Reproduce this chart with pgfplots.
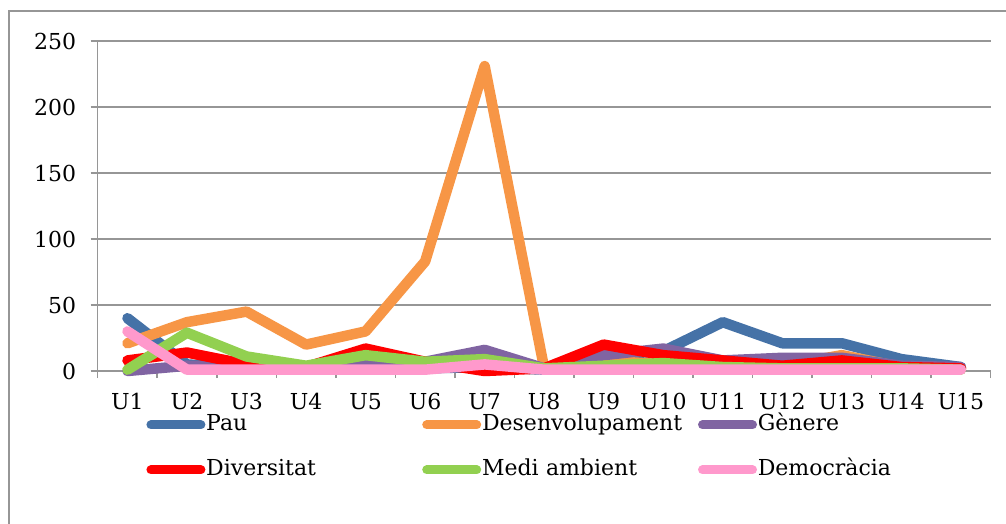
\documentclass[border=0pt]{standalone}
\usepackage{pgfplots}
\pgfplotsset{compat=1.18}
\usepackage{fontspec}
\setmainfont{DejaVu Serif}
\definecolor{cPau}{HTML}{4572A7}
\definecolor{cDes}{HTML}{F79646}
\definecolor{cGen}{HTML}{8064A2}
\definecolor{cDiv}{HTML}{FF0000}
\definecolor{cMed}{HTML}{92D050}
\definecolor{cDem}{HTML}{FF99CC}
\definecolor{cGrid}{HTML}{969696}
\begin{document}
\begin{tikzpicture}
\useasboundingbox (0,0) rectangle (1006bp,524bp);
\draw[cGrid, line width=1.5bp] (9bp,-20bp) |- (1030bp,513bp);
\begin{axis}[
  at={(97.7bp,153bp)}, anchor=south west,
  scale only axis, width=893bp, height=330bp,
  xmin=0.5, xmax=15.5, ymin=0, ymax=250,
  clip=false,
  axis x line*=bottom, axis y line*=left,
  axis line style={-, cGrid, line width=1.5bp},
  xtick={1,...,15},
  xticklabels={U1,U2,U3,U4,U5,U6,U7,U8,U9,U10,U11,U12,U13,U14,U15},
  minor xtick={0.5,1.5,...,15.5},
  major x tick style={draw=none},
  ytick={0,50,100,150,200,250},
  ymajorgrids, grid style={cGrid, line width=1.5bp},
  tick style={cGrid, line width=1.5bp},
  tick align=outside, major tick length=7bp, minor tick length=7bp,
  tick label style={font=\fontsize{22bp}{24bp}\selectfont, text=black},
  /pgf/number format/assume math mode=true,
  xticklabel style={yshift=-12bp},
  yticklabel style={xshift=-11bp},
  every axis plot/.append style={line width=10.5bp, line join=round, line cap=round},
  legend columns=3,
  legend cell align=left,
  legend image code/.code={\draw[#1, line width=9bp, line cap=round] (0bp,0bp) -- (50bp,0bp);},
  legend style={at={(0.051,-0.1235)}, anchor=north west, draw=none, fill=none,
    font=\fontsize{22bp}{24bp}\selectfont,
    nodes={inner sep=0pt, text width=216bp, text height=17bp, text depth=5bp},
    row sep=23bp,
    /tikz/every odd column/.append style={column sep=0.8bp},
    /tikz/every even column/.append style={column sep=0bp}},
]
\addplot[cPau] coordinates {(1,40)(2,5)(3,2)(4,2)(5,3)(6,2)(7,3)(8,1)(9,12)(10,15)(11,37)(12,21)(13,21)(14,9)(15,3)};
\addlegendentry{Pau}
\addplot[cDes] coordinates {(1,21)(2,37)(3,45)(4,20)(5,30)(6,83)(7,231)(8,2)(9,8)(10,5)(11,3)(12,4)(13,12)(14,3)(15,2)};
\addlegendentry{Desenvolupament}
\addplot[cGen] coordinates {(1,0)(2,4)(3,3)(4,3)(5,5)(6,7)(7,16)(8,2)(9,12)(10,17)(11,8)(12,10)(13,10)(14,4)(15,3)};
\addlegendentry{Gènere}
\addplot[cDiv] coordinates {(1,8)(2,14)(3,5)(4,3)(5,17)(6,7)(7,0)(8,2)(9,20)(10,12)(11,8)(12,4)(13,8)(14,3)(15,2)};
\addlegendentry{Diversitat}
\addplot[cMed] coordinates {(1,1)(2,29)(3,11)(4,4)(5,12)(6,7)(7,9)(8,2)(9,4)(10,6)(11,3)(12,2)(13,2)(14,2)(15,1)};
\addlegendentry{Medi ambient}
\addplot[cDem] coordinates {(1,30)(2,1)(3,1)(4,1)(5,1)(6,1)(7,5)(8,1)(9,1)(10,1)(11,1)(12,1)(13,1)(14,1)(15,1)};
\addlegendentry{Democràcia}
\end{axis}
\end{tikzpicture}
\end{document}
